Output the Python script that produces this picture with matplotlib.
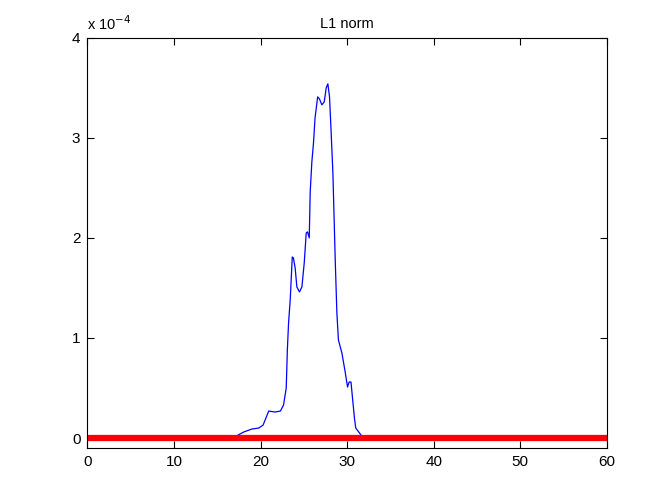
import matplotlib
matplotlib.use("Agg")
import matplotlib.pyplot as plt

plt.rcParams['font.family'] = ['Liberation Sans', 'DejaVu Sans']

# blue series (units of 1e-4)
x_blue = [0, 17.2, 18.05, 19.0, 19.8, 20.3, 20.95, 21.7, 22.3, 22.66, 22.97, 23.1, 23.24,
          23.43, 23.67, 23.8, 24.0, 24.2, 24.5, 24.78, 25.05, 25.28, 25.43, 25.63, 25.74,
          25.93, 26.12, 26.3, 26.6, 26.8, 27.09, 27.36, 27.59, 27.78, 27.97, 28.13, 28.36,
          28.63, 28.82, 29.0, 29.4, 29.78, 30.05, 30.24, 30.45, 30.67, 30.85, 31.0, 31.7, 60]
y_blue = [0, 0.02, 0.06, 0.09, 0.10, 0.13, 0.27, 0.26, 0.27, 0.33, 0.50, 0.88, 1.15,
          1.38, 1.81, 1.80, 1.70, 1.51, 1.46, 1.51, 1.75, 2.05, 2.06, 2.00, 2.46,
          2.76, 2.95, 3.20, 3.41, 3.39, 3.33, 3.36, 3.50, 3.54, 3.41, 3.11, 2.65,
          1.78, 1.25, 0.98, 0.85, 0.66, 0.51, 0.56, 0.56, 0.36, 0.20, 0.10, 0.02, 0]
x_red = [0, 60]
y_red = [0, 0]
x_ticks = [0, 10, 20, 30, 40, 50, 60]
y_ticks = [0, 1, 2, 3, 4]

fig = plt.figure(figsize=(6.72, 5.04), dpi=100)
ax = fig.add_axes([0.13, 0.111, 0.773, 0.814])
ax.plot(x_blue, y_blue, color='#0000ff', lw=0.9)
ax.plot(x_red, y_red, color='#ff0000', lw=4.5, solid_capstyle='butt')
ax.set_xlim(0, 60)
ax.set_ylim(-0.1, 4)
ax.set_xticks(x_ticks)
ax.set_yticks(y_ticks)
ax.tick_params(direction='in', top=True, right=True, labelsize=11, length=5, width=0.8, pad=5)
for s in ax.spines.values():
    s.set_linewidth(0.8)
ax.set_title('L1 norm', fontsize=10.5, pad=7)
ax.text(0.0, 1.012, r'x 10$^{-4}$', transform=ax.transAxes, fontsize=10.5, ha='left', va='bottom')
fig.savefig('out.png', dpi=100)
